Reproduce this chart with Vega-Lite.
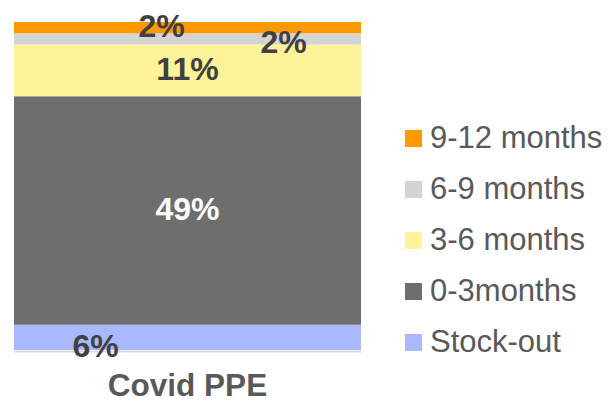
{
  "$schema": "https://vega.github.io/schema/vega-lite/v6.json",
  "width": 347,
  "height": 328,
  "autosize": {"type": "none"},
  "padding": {"left": 14, "top": 22, "right": 255, "bottom": 54},
  "background": "white",
  "config": {"view": {"stroke": null}, "font": "Liberation Sans"},
  "data": {
    "values": [
      {"category": "Covid PPE", "period": "Stock-out", "rank": 1, "value": 5.4, "label": "6%"},
      {"category": "Covid PPE", "period": "0-3months", "rank": 2, "value": 49.0, "label": "49%"},
      {"category": "Covid PPE", "period": "3-6 months", "rank": 3, "value": 11.1, "label": "11%"},
      {"category": "Covid PPE", "period": "6-9 months", "rank": 4, "value": 2.4, "label": "2%"},
      {"category": "Covid PPE", "period": "9-12 months", "rank": 5, "value": 2.4, "label": "2%"}
    ]
  },
  "transform": [
    {"stack": "value", "groupby": ["category"], "sort": [{"field": "rank", "order": "ascending"}], "as": ["v0", "v1"]},
    {"calculate": "(datum.v0 + datum.v1) / 2", "as": "mid"}
  ],
  "encoding": {
    "x": {
      "field": "category",
      "type": "nominal",
      "title": null,
      "scale": {"paddingInner": 0, "paddingOuter": 0},
      "axis": {
        "labelAngle": 0,
        "labelFontSize": 31.5,
        "labelFontWeight": "bold",
        "labelColor": "#595959",
        "labelFont": "Liberation Sans",
        "labelPadding": 19,
        "ticks": false,
        "domainColor": "#D9D9D9",
        "domainWidth": 2,
        "offset": 1
      }
    }
  },
  "layer": [
    {
      "mark": {"type": "bar"},
      "encoding": {
        "y": {"field": "v0", "type": "quantitative", "scale": {"domain": [0, 70.3], "nice": false, "zero": true}, "axis": null},
        "y2": {"field": "v1"},
        "color": {
          "field": "period",
          "type": "nominal",
          "title": null,
          "scale": {
            "domain": ["9-12 months", "6-9 months", "3-6 months", "0-3months", "Stock-out"],
            "range": ["#FF9900", "#D4D4D4", "#FFF399", "#6E6E6E", "#AAB8FF"]
          },
          "legend": {
            "orient": "none",
            "legendX": 384,
            "legendY": 101,
            "symbolType": "square",
            "symbolSize": 289,
            "symbolStrokeWidth": 0,
            "labelFontSize": 31,
            "labelColor": "#595959",
            "labelFont": "Liberation Sans",
            "labelOffset": 1,
            "rowPadding": 19,
            "labelLimit": 300
          }
        }
      }
    },
    {
      "transform": [{"filter": "datum.period === '3-6 months' || datum.period === '0-3months'"}],
      "mark": {"type": "text", "fontSize": 32, "fontWeight": "bold", "font": "Liberation Sans", "baseline": "middle", "align": "center"},
      "encoding": {
        "y": {"field": "mid", "type": "quantitative"},
        "text": {"field": "label"},
        "color": {"condition": {"test": "datum.period === '0-3months'", "value": "#FFFFFF"}, "value": "#404040"}
      }
    },
    {
      "transform": [{"filter": "datum.period === '9-12 months'"}],
      "mark": {"type": "text", "fontSize": 32, "fontWeight": "bold", "font": "Liberation Sans", "baseline": "middle", "align": "center", "dx": -26, "dy": -1, "color": "#404040"},
      "encoding": {
        "y": {"field": "mid", "type": "quantitative"},
        "text": {"field": "label"}
      }
    },
    {
      "transform": [{"filter": "datum.period === '6-9 months'"}],
      "mark": {"type": "text", "fontSize": 32, "fontWeight": "bold", "font": "Liberation Sans", "baseline": "middle", "align": "center", "dx": 96, "dy": 4, "color": "#404040"},
      "encoding": {
        "y": {"field": "mid", "type": "quantitative"},
        "text": {"field": "label"}
      }
    },
    {
      "transform": [{"filter": "datum.period === 'Stock-out'"}],
      "mark": {"type": "text", "fontSize": 32, "fontWeight": "bold", "font": "Liberation Sans", "baseline": "middle", "align": "center", "dx": -92, "dy": 10, "color": "#404040"},
      "encoding": {
        "y": {"field": "mid", "type": "quantitative"},
        "text": {"field": "label"}
      }
    }
  ]
}
